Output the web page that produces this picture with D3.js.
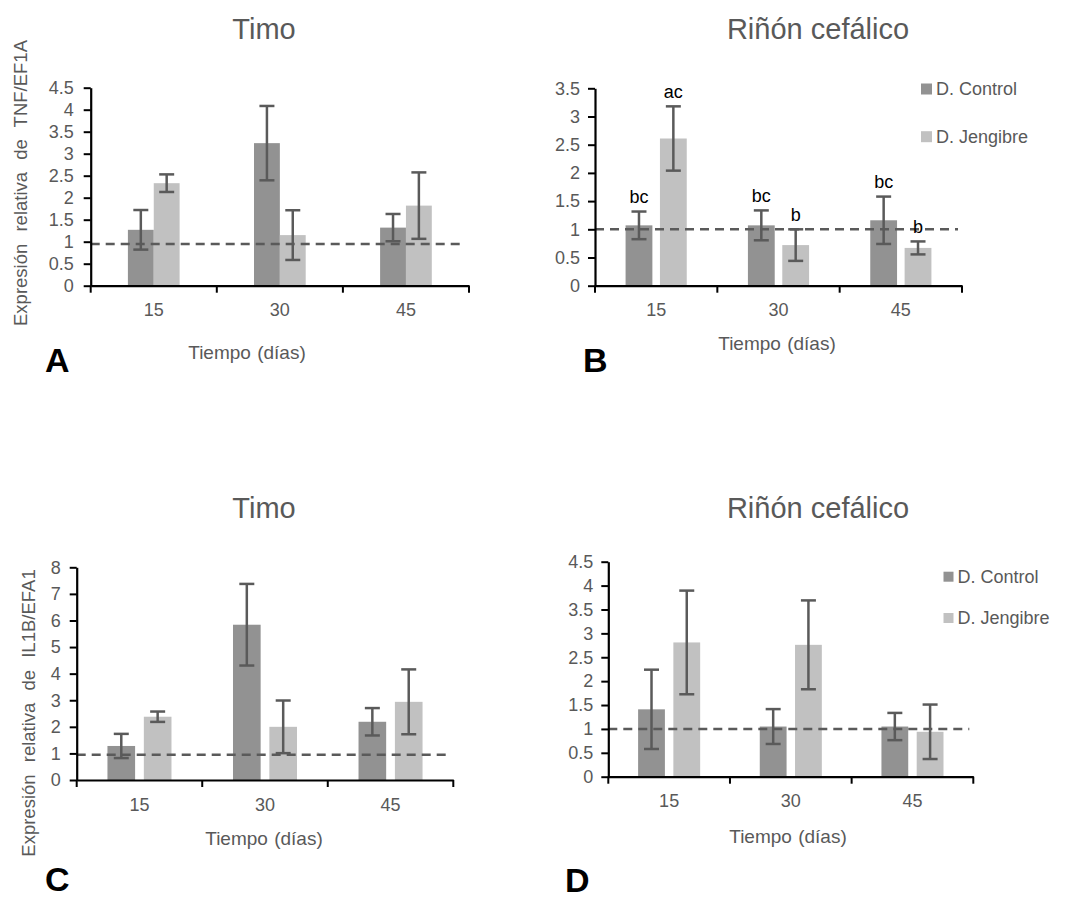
<!DOCTYPE html>
<html><head><meta charset="utf-8">
<script src="https://cdn.jsdelivr.net/npm/d3@7"></script>
<style>
body{margin:0;background:#fff}
svg{display:block}
text{font-family:"Liberation Sans",Arial,sans-serif}
</style>
</head><body>
<svg id="chart" width="1069" height="899"></svg>
<script>
// ---------- data ----------
const categories = ["15", "30", "45"];
const seriesNames = ["D. Control", "D. Jengibre"];

// A: TNF / Timo
const tnfTimoControl = [1.27, 3.24, 1.32];
const tnfTimoControlErr = [0.45, 0.845, 0.31];
const tnfTimoJengibre = [2.33, 1.15, 1.82];
const tnfTimoJengibreErr = [0.20, 0.565, 0.755];
const tnfTimoRef = 0.95;

// B: TNF / Riñón cefálico
const tnfRinonControl = [1.07, 1.07, 1.16];
const tnfRinonControlErr = [0.245, 0.265, 0.42];
const tnfRinonJengibre = [2.61, 0.72, 0.67];
const tnfRinonJengibreErr = [0.57, 0.28, 0.115];
const tnfRinonControlLetters = ["bc", "bc", "bc"];
const tnfRinonJengibreLetters = ["ac", "b", "b"];
const tnfRinonRef = 1.0;

// C: IL1B / Timo
const il1bTimoControl = [1.28, 5.84, 2.19];
const il1bTimoControlErr = [0.455, 1.535, 0.515];
const il1bTimoJengibre = [2.38, 2.0, 2.94];
const il1bTimoJengibreErr = [0.195, 0.99, 1.22];
const il1bTimoRef = 0.95;

// D: IL1B / Riñón cefálico
const il1bRinonControl = [1.41, 1.05, 1.05];
const il1bRinonControlErr = [0.83, 0.365, 0.285];
const il1bRinonJengibre = [2.81, 2.76, 0.94];
const il1bRinonJengibreErr = [1.085, 0.93, 0.57];
const il1bRinonRef = 1.0;

// ---------- styles ----------
const colors = ["#929292", "#c1c1c1"];
const textGray = "#595959";
const errColor = "#5a5a5a";
const FONT = '"Liberation Sans",Arial,sans-serif';

const svg = d3.select("#chart");

const panels = [
  { letter: "A", title: "Timo", titleX: 264, titleY: 38.5,
    yTitle: "Expresión relativa de TNF/EF1A", yTitleX: 27, yTitleY: 183,
    xTitle: "Tiempo (días)", xTitleX: 247, xTitleY: 358.5,
    x0: 90.7, x1: 469, y0: 285.7, yTop: 87.7, yMax: 4.5, yStep: 0.5,
    groupFrac: 0.41, barGap: 0, labelPad: 10,
    letterX: 45, letterY: 372,
    series: [
      { values: tnfTimoControl, err: tnfTimoControlErr },
      { values: tnfTimoJengibre, err: tnfTimoJengibreErr }
    ], ref: tnfTimoRef },
  { letter: "B", title: "Riñón cefálico", titleX: 818, titleY: 38.5,
    xTitle: "Tiempo (días)", xTitleX: 777, xTitleY: 349.5,
    x0: 595, x1: 962, y0: 285.7, yTop: 88.3, yMax: 3.5, yStep: 0.5,
    groupFrac: 0.50, barGap: 0.22, labelPad: 8,
    letterX: 583, letterY: 372,
    legend: { x: 921, y: 89, dy: 47.7, size: 11 },
    series: [
      { values: tnfRinonControl, err: tnfRinonControlErr, letters: tnfRinonControlLetters },
      { values: tnfRinonJengibre, err: tnfRinonJengibreErr, letters: tnfRinonJengibreLetters }
    ], ref: tnfRinonRef },
  { letter: "C", title: "Timo", titleX: 264, titleY: 518.3,
    yTitle: "Expresión relativa de IL1B/EFA1", yTitleX: 35, yTitleY: 713,
    xTitle: "Tiempo  (días)", xTitleX: 264, xTitleY: 844.5,
    x0: 76.7, x1: 453.3, y0: 780, yTop: 567.3, yMax: 8, yStep: 1,
    groupFrac: 0.51, barGap: 0.24, labelPad: 9,
    letterX: 45, letterY: 891,
    series: [
      { values: il1bTimoControl, err: il1bTimoControlErr },
      { values: il1bTimoJengibre, err: il1bTimoJengibreErr }
    ], ref: il1bTimoRef },
  { letter: "D", title: "Riñón cefálico", titleX: 818, titleY: 518.3,
    xTitle: "Tiempo (días)", xTitleX: 788, xTitleY: 843,
    x0: 608.3, x1: 973.3, y0: 776.7, yTop: 561.7, yMax: 4.5, yStep: 0.5,
    groupFrac: 0.51, barGap: 0.24, labelPad: 8,
    letterX: 565, letterY: 892,
    legend: { x: 943.5, y: 576.7, dy: 41.3, size: 10 },
    series: [
      { values: il1bRinonControl, err: il1bRinonControlErr },
      { values: il1bRinonJengibre, err: il1bRinonJengibreErr }
    ], ref: il1bRinonRef }
];

function drawPanel(p) {
  const g = svg.append("g");
  const x = d3.scaleBand().domain(categories).range([p.x0, p.x1]);
  const groupW = x.bandwidth() * p.groupFrac;
  const groupOff = (x.bandwidth() - groupW) / 2;
  const inner = d3.scaleBand().domain(seriesNames).range([0, groupW]).paddingInner(p.barGap);
  const y = d3.scaleLinear().domain([0, p.yMax]).range([p.y0, p.yTop]);

  // bars
  p.series.forEach((s, si) => {
    const bx = i => x(categories[i]) + groupOff + inner(seriesNames[si]);
    g.append("g").selectAll("rect").data(s.values).join("rect")
      .attr("x", (d, i) => bx(i))
      .attr("y", d => y(d))
      .attr("width", inner.bandwidth())
      .attr("height", d => y(0) - y(d))
      .attr("fill", colors[si]);
  });

  // reference dashed line
  g.append("line")
    .attr("x1", p.x0).attr("x2", p.x1 - 4)
    .attr("y1", y(p.ref)).attr("y2", y(p.ref))
    .attr("stroke", errColor).attr("stroke-width", 2.5)
    .attr("stroke-dasharray", "9,6");

  // error bars
  p.series.forEach((s, si) => {
    const cx = i => x(categories[i]) + groupOff + inner(seriesNames[si]) + inner.bandwidth() / 2;
    const eg = g.append("g").attr("stroke", errColor).attr("stroke-width", 2.5);
    s.values.forEach((v, i) => {
      const hi = y(v + s.err[i]), lo = y(v - s.err[i]);
      eg.append("line").attr("x1", cx(i)).attr("x2", cx(i)).attr("y1", hi).attr("y2", lo);
      eg.append("line").attr("x1", cx(i) - 7.5).attr("x2", cx(i) + 7.5).attr("y1", hi).attr("y2", hi);
      eg.append("line").attr("x1", cx(i) - 7.5).attr("x2", cx(i) + 7.5).attr("y1", lo).attr("y2", lo);
      if (s.letters) {
        g.append("text").attr("x", cx(i)).attr("y", hi - 8.5)
          .attr("text-anchor", "middle").attr("font-size", 18).attr("fill", "#000")
          .text(s.letters[i]);
      }
    });
  });

  // y axis
  const ticks = d3.range(0, p.yMax + p.yStep / 2, p.yStep);
  const ya = g.append("g").attr("transform", `translate(${p.x0},0)`)
    .call(d3.axisLeft(y).tickValues(ticks).tickFormat(d3.format("~g"))
      .tickSize(7).tickSizeOuter(0).tickPadding(p.labelPad));
  ya.select(".domain").attr("stroke", "#000").attr("stroke-width", 2.2);
  ya.selectAll(".tick line").attr("stroke", "#000").attr("stroke-width", 2);
  ya.selectAll(".tick text").attr("fill", textGray).attr("font-size", 18)
    .attr("font-family", FONT);

  // x axis
  const xa = g.append("g").attr("transform", `translate(0,${p.y0})`)
    .call(d3.axisBottom(x).tickSize(0).tickSizeOuter(0).tickPadding(18));
  xa.select(".domain").attr("stroke", "#000").attr("stroke-width", 2.2);
  xa.selectAll(".tick text").attr("fill", textGray).attr("font-size", 18)
    .attr("font-family", FONT);
  const bounds = categories.map(c => x(c)).concat([x.range()[1]]);
  xa.selectAll(".bound").data(bounds).join("line").attr("class", "bound")
    .attr("x1", d => d).attr("x2", d => d).attr("y1", 0).attr("y2", 7)
    .attr("stroke", "#000").attr("stroke-width", 2);

  // titles
  svg.append("text").attr("x", p.titleX).attr("y", p.titleY)
    .attr("text-anchor", "middle").attr("font-size", 29).attr("fill", textGray)
    .text(p.title);
  svg.append("text").attr("x", p.xTitleX).attr("y", p.xTitleY)
    .attr("text-anchor", "middle").attr("font-size", 19).attr("fill", textGray)
    .attr("word-spacing", 1)
    .text(p.xTitle);
  if (p.yTitle) {
    svg.append("text")
      .attr("transform", `translate(${p.yTitleX},${p.yTitleY}) rotate(-90)`)
      .attr("text-anchor", "middle").attr("font-size", 18.5).attr("fill", textGray)
      .attr("word-spacing", 7)
      .text(p.yTitle);
  }
  svg.append("text").attr("x", p.letterX).attr("y", p.letterY)
    .attr("font-size", 34).attr("font-weight", "bold").attr("fill", "#000")
    .text(p.letter);

  // legend
  if (p.legend) {
    const L = p.legend;
    seriesNames.forEach((n, i) => {
      svg.append("rect").attr("x", L.x).attr("y", L.y + i * L.dy - L.size / 2)
        .attr("width", L.size).attr("height", L.size).attr("fill", colors[i]);
      svg.append("text").attr("x", L.x + L.size + 4).attr("y", L.y + i * L.dy)
        .attr("dy", "0.35em").attr("font-size", 18).attr("fill", textGray)
        .text(n);
    });
  }
}

panels.forEach(drawPanel);
</script>
</body></html>
